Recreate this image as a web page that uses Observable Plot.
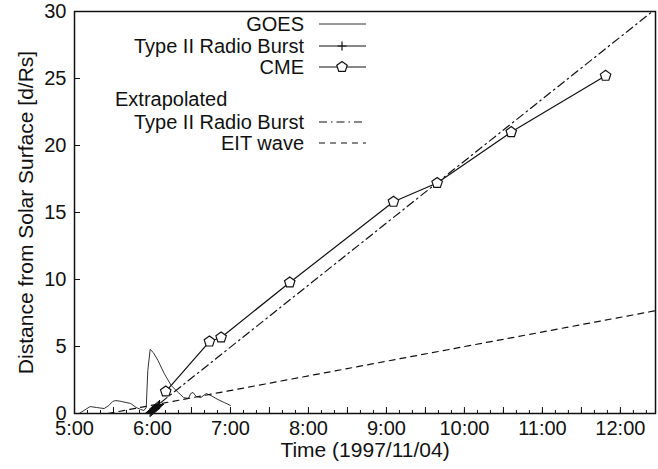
<!DOCTYPE html>
<html><head><meta charset="utf-8">
<script src="https://cdn.jsdelivr.net/npm/d3@7"></script>
<script src="https://cdn.jsdelivr.net/npm/@observablehq/plot@0.6"></script>
<style>
html,body{margin:0;padding:0;background:#fff;}
#chart svg{display:block;}
</style></head><body><div id="chart"></div>
<script>
// ---- data (hours since 0:00 on 1997/11/04, distance in solar radii) ----
const goesTime  = [5.06,5.12,5.20,5.28,5.38,5.44,5.49,5.53,5.60,5.66,5.72,5.79,5.85,5.89,5.92,5.94,5.97,6.01,6.07,6.15,6.24,6.33,6.40,6.46,6.49,6.52,6.56,6.62,6.69,6.75,6.84,6.92,7.00];
const goesValue = [0.00,0.22,0.52,0.45,0.37,0.60,0.90,0.97,0.90,0.82,0.75,0.45,0.30,0.22,0.45,3.20,4.78,4.55,3.96,2.99,2.09,1.57,1.19,1.12,1.49,1.57,1.27,1.19,1.49,1.34,1.04,0.82,0.60];

const radioTime = [5.970,5.985,6.000,6.015,6.030,6.045,6.060,6.075,6.090];
const radioDist = [0.07,0.15,0.22,0.30,0.37,0.45,0.52,0.60,0.67];

const cmeTime = [6.17,6.73,6.88,7.76,9.09,9.65,10.60,11.81];
const cmeDist = [1.64,5.37,5.67,9.78,15.8,17.2,21.0,25.2];

const typeIIExtTime = [5.93,12.41];
const typeIIExtDist = [0,30];

const eitTime = [5.43,12.45];
const eitDist = [0,7.67];

const hourTicks = [5,6,7,8,9,10,11,12];
const hourLabels = ["5:00","6:00","7:00","8:00","9:00","10:00","11:00","12:00"];
const yTicks = [0,5,10,15,20,25,30];

const xTitle = "Time (1997/11/04)";
const yTitle = "Distance from Solar Surface [d/Rs]";
const legendItems = ["GOES","Type II Radio Burst","CME"];
const legendGroupTitle = "Extrapolated";
const legendExtItems = ["Type II Radio Burst","EIT wave"];

// ---- build tables ----
const zip = (ts, ds) => ts.map((t, i) => ({t, d: ds[i]}));
const goes = zip(goesTime, goesValue);
const radio = zip(radioTime, radioDist);
const cme = zip(cmeTime, cmeDist);
const typeIIExt = zip(typeIIExtTime, typeIIExtDist);
const eit = zip(eitTime, eitDist);

const halfTicks = d3.range(5, 12.46, 0.5);
const minorTicks = d3.range(0, 45).map(i => 5 + i / 6).filter(v => v <= 12.45);

const pentagon = {
  draw(context, size) {
    const r = Math.sqrt(size / Math.PI) * 1.1;
    for (let i = 0; i < 5; i++) {
      const a = -Math.PI / 2 + i * 2 * Math.PI / 5;
      const x = r * Math.cos(a), y = r * Math.sin(a);
      if (i) context.lineTo(x, y); else context.moveTo(x, y);
    }
    context.closePath();
  }
};

const ink = "#111";
const font = "'Liberation Sans', Arial, Helvetica, sans-serif";

const chart = Plot.plot({
  width: 658, height: 469,
  marginLeft: 74, marginRight: 3, marginTop: 11, marginBottom: 56,
  style: {fontFamily: font, fontSize: "20px", color: ink, background: "#fff"},
  x: {domain: [5, 12.45]},
  y: {domain: [0, 30]},
  marks: [
    Plot.axisX({ticks: minorTicks, tickSize: -3, tickFormat: () => "", label: null, stroke: ink}),
    Plot.axisX({ticks: halfTicks, tickSize: -6, tickFormat: () => "", label: null, stroke: ink}),
    Plot.axisX({ticks: hourTicks, tickSize: 0, tickPadding: 7,
      tickFormat: d => hourLabels[hourTicks.indexOf(d)], label: null}),
    Plot.axisY({ticks: yTicks, tickSize: -6, tickFormat: () => "", label: null, stroke: ink}),
    Plot.axisY({ticks: yTicks, tickSize: 0, tickPadding: 8, label: null}),
    Plot.text([xTitle], {frameAnchor: "bottom", dy: 37, fontSize: 21, fill: ink, lineAnchor: "middle", textAnchor: "middle"}),
    Plot.text([yTitle], {frameAnchor: "left", dx: -48, rotate: -90, fontSize: 21, fill: ink, lineAnchor: "middle", textAnchor: "middle"}),
    Plot.line(goes, {x: "t", y: "d", stroke: "#333", strokeWidth: 1}),
    Plot.line(eit, {x: "t", y: "d", stroke: ink, strokeWidth: 1.2, strokeDasharray: "6,5"}),
    Plot.line(typeIIExt, {x: "t", y: "d", stroke: ink, strokeWidth: 1.2, strokeDasharray: "8,4,1.5,4"}),
    Plot.line(cme, {x: "t", y: "d", stroke: ink, strokeWidth: 1.2}),
    Plot.dot(cme, {x: "t", y: "d", symbol: pentagon, r: 5, fill: "white", stroke: ink, strokeWidth: 1.2}),
    Plot.line(radio, {x: "t", y: "d", stroke: ink, strokeWidth: 2.5}),
    Plot.dot(radio, {x: "t", y: "d", symbol: "plus", r: 3, stroke: ink, strokeWidth: 1.2}),
    Plot.frame({stroke: ink, strokeWidth: 1.5})
  ]
});

document.getElementById("chart").appendChild(chart);

// ---- legend inside the plot ----
const svg = d3.select(chart);
const lg = svg.append("g").attr("font-family", font).attr("font-size", 20).attr("fill", ink);
const textRight = 304, x0 = 319, x1 = 366, xm = 342;
const rows = [24, 46, 67, 99, 122, 143];
const addText = (y, s, anchor, x) => lg.append("text").attr("x", x).attr("y", y).attr("dy", "0.35em")
  .attr("text-anchor", anchor).text(s);
const addLine = (y, dash, color, w) => lg.append("line").attr("x1", x0).attr("x2", x1).attr("y1", y).attr("y2", y)
  .attr("stroke", color).attr("stroke-width", w).attr("stroke-dasharray", dash);

addText(rows[0], legendItems[0], "end", textRight); addLine(rows[0], null, "#333", 1);
addText(rows[1], legendItems[1], "end", textRight); addLine(rows[1], null, ink, 1.2);
lg.append("path").attr("d", d3.symbol(d3.symbolPlus, 28)()).attr("transform", `translate(${xm},${rows[1]})`)
  .attr("fill", "none").attr("stroke", ink).attr("stroke-width", 1.2);
addText(rows[2], legendItems[2], "end", textRight); addLine(rows[2], null, ink, 1.2);
lg.append("path").attr("d", d3.symbol(pentagon, Math.PI * 25)()).attr("transform", `translate(${xm},${rows[2]})`)
  .attr("fill", "white").attr("stroke", ink).attr("stroke-width", 1.2);
addText(rows[3], legendGroupTitle, "start", 115);
addText(rows[4], legendExtItems[0], "end", textRight); addLine(rows[4], "8,4,1.5,4", ink, 1.2);
addText(rows[5], legendExtItems[1], "end", textRight); addLine(rows[5], "6,5", ink, 1.2);
</script>
</body></html>
